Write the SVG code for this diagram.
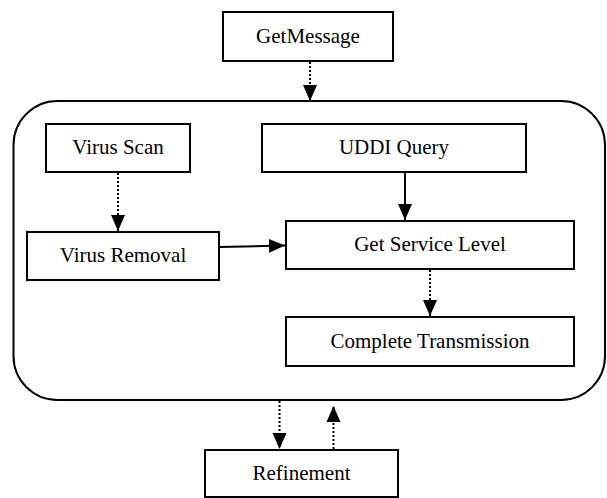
<svg xmlns="http://www.w3.org/2000/svg" width="607" height="498" viewBox="0 0 607 498">
<style>
.box{fill:#fff;stroke:#000;stroke-width:2}
.lbl{font-family:"Liberation Serif","Times New Roman",serif;font-size:21px;fill:#000;text-anchor:middle}
.solid{fill:none;stroke:#000;stroke-width:2}
.dot{fill:none;stroke:#000;stroke-width:2;stroke-dasharray:2 2}
</style>
<defs>
<marker id="ah" markerUnits="userSpaceOnUse" markerWidth="16" markerHeight="16" viewBox="0 0 16 14" refX="16" refY="7" orient="auto">
<path d="M0,0 L16,7 L0,14 Z" fill="#000"/>
</marker>
</defs>
<rect id="container" x="13.5" y="101" width="591.5" height="299" rx="44" ry="44" fill="none" stroke="#000" stroke-width="2"/>
<g id="connectors">
<line class="dot" x1="310" y1="62" x2="310" y2="101" marker-end="url(#ah)"/>
<line class="dot" x1="118" y1="173" x2="118" y2="231" marker-end="url(#ah)"/>
<line class="solid" x1="405" y1="173" x2="405" y2="220" marker-end="url(#ah)"/>
<line class="solid" x1="220" y1="247" x2="285" y2="245.5" marker-end="url(#ah)"/>
<line class="dot" x1="430" y1="270" x2="430" y2="316" marker-end="url(#ah)"/>
<line class="dot" x1="279.5" y1="401" x2="279.5" y2="449" marker-end="url(#ah)"/>
<line class="dot" x1="333.5" y1="449" x2="333.5" y2="406" marker-end="url(#ah)"/>
</g>
<g id="getmessage">
<rect class="box" x="223" y="12" width="170" height="49"/>
<text class="lbl" x="308" y="42.5">GetMessage</text>
</g>
<g id="virusscan">
<rect class="box" x="46" y="124" width="144" height="48"/>
<text class="lbl" x="118" y="154">Virus Scan</text>
</g>
<g id="uddiquery">
<rect class="box" x="262" y="124" width="264" height="48"/>
<text class="lbl" x="394" y="154">UDDI Query</text>
</g>
<g id="virusremoval">
<rect class="box" x="27" y="232" width="192" height="48"/>
<text class="lbl" x="123" y="262">Virus Removal</text>
</g>
<g id="getservicelevel">
<rect class="box" x="286" y="221" width="288" height="48"/>
<text class="lbl" x="430" y="251">Get Service Level</text>
</g>
<g id="completetransmission">
<rect class="box" x="286" y="317" width="288" height="49"/>
<text class="lbl" x="430" y="347.5">Complete Transmission</text>
</g>
<g id="refinement">
<rect class="box" x="205" y="450" width="193" height="47"/>
<text class="lbl" x="301.5" y="479.5">Refinement</text>
</g>
</svg>
